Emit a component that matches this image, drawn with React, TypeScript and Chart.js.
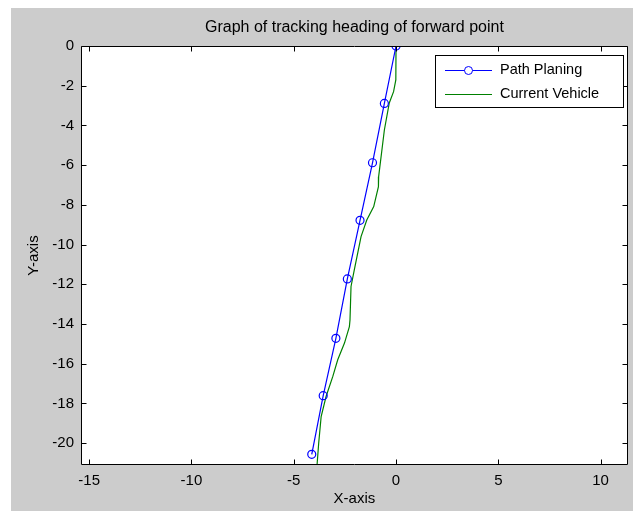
import React, { useEffect, useRef } from "react";
import { Chart, registerables } from "chart.js";

Chart.register(...registerables);

const titleText = "Graph of tracking heading of forward point";
const xAxisTitle = "X-axis";
const yAxisTitle = "Y-axis";
const xTicks = [-15, -10, -5, 0, 5, 10];
const yTicks = [0, -2, -4, -6, -8, -10, -12, -14, -16, -18, -20];
const xMin = -15.4;
const xMax = 11.33;
const yMin = -21.1;
const yMax = 0;

const pathLabel = "Path Planing";
const pathX = [0, -0.57, -1.15, -1.76, -2.38, -2.94, -3.56, -4.12];
const pathY = [0, -2.89, -5.88, -8.78, -11.73, -14.72, -17.61, -20.56];

const vehicleLabel = "Current Vehicle";
const vehicleX = [0, -0.01, -0.12, -0.33, -0.57, -0.85, -0.86, -1.09, -1.43, -1.71, -2.04, -2.2, -2.25, -2.28, -2.52, -2.85, -3.09, -3.42, -3.66, -3.78, -3.86, -3.9];
const vehicleY = [0, -1.71, -2.3, -2.87, -4.23, -6.58, -7.08, -8.09, -8.76, -9.6, -11.27, -12.11, -13.79, -14.13, -14.96, -15.8, -16.64, -17.65, -18.66, -19.99, -21.09, -21.5];

const FONT = "'Liberation Sans', Arial, sans-serif";

const decorPlugin = {
  id: "decor",
  beforeDraw(chart: any) {
    const { ctx, chartArea: a } = chart;
    ctx.save();
    ctx.fillStyle = "#ffffff";
    ctx.fillRect(a.left, a.top, a.right - a.left, a.bottom - a.top);
    ctx.restore();
  },
  afterDraw(chart: any) {
    const { ctx, chartArea: a } = chart;
    const xs = chart.scales.x;
    const ys = chart.scales.y;
    ctx.save();
    ctx.strokeStyle = "#000000";
    ctx.lineWidth = 1;
    const L = Math.round(a.left) + 0.5;
    const R = Math.round(a.right) - 0.5;
    const T = Math.round(a.top) + 0.5;
    const B = Math.round(a.bottom) - 0.5;
    ctx.beginPath();
    ctx.rect(L, T, R - L, B - T);
    ctx.stroke();
    const tl = 5;
    ctx.beginPath();
    xTicks.forEach((v) => {
      const px = Math.round(xs.getPixelForValue(v)) + 0.5;
      ctx.moveTo(px, B);
      ctx.lineTo(px, B - tl);
      ctx.moveTo(px, T);
      ctx.lineTo(px, T + tl);
    });
    yTicks.forEach((v) => {
      const py = Math.round(ys.getPixelForValue(v)) + 0.5;
      ctx.moveTo(L, py);
      ctx.lineTo(L + tl, py);
      ctx.moveTo(R, py);
      ctx.lineTo(R - tl, py);
    });
    ctx.stroke();

    // title
    ctx.fillStyle = "#000000";
    ctx.font = `16px ${FONT}`;
    ctx.textAlign = "center";
    ctx.textBaseline = "middle";
    ctx.fillText(titleText, (a.left + a.right) / 2, 20);

    // legend
    const lx = 424, ly = 47, lw = 188, lh = 52;
    ctx.fillStyle = "#ffffff";
    ctx.fillRect(lx, ly, lw, lh);
    ctx.strokeStyle = "#000000";
    ctx.strokeRect(lx + 0.5, ly + 0.5, lw, lh);
    const ds = chart.data.datasets;
    const rows = [ly + 15, ly + 39];
    ds.forEach((d: any, i: number) => {
      const y = rows[i] + 0.5;
      ctx.strokeStyle = d.borderColor;
      ctx.lineWidth = 1;
      ctx.beginPath();
      ctx.moveTo(434, y);
      ctx.lineTo(481, y);
      ctx.stroke();
      if (d.pointRadius > 0) {
        ctx.fillStyle = "#ffffff";
        ctx.beginPath();
        ctx.arc(457.5, y, 4, 0, Math.PI * 2);
        ctx.fill();
        ctx.stroke();
      }
      ctx.fillStyle = "#000000";
      ctx.font = `14.5px ${FONT}`;
      ctx.textAlign = "left";
      ctx.textBaseline = "middle";
      ctx.fillText(d.label, 489, rows[i]);
    });
    ctx.restore();
  },
};

export default function App() {
  const ref = useRef<HTMLCanvasElement | null>(null);
  useEffect(() => {
    if (!ref.current) return;
    const chart = new Chart(ref.current, {
      type: "scatter",
      data: {
        datasets: [
          {
            label: pathLabel,
            data: pathX.map((x, i) => ({ x, y: pathY[i] })),
            showLine: true,
            borderColor: "#0000ff",
            backgroundColor: "rgba(255,255,255,0)",
            borderWidth: 1.2,
            pointRadius: 4,
            pointBorderWidth: 1.2,
            pointBorderColor: "#0000ff",
            pointBackgroundColor: "rgba(255,255,255,0)",
            order: 1,
          },
          {
            label: vehicleLabel,
            data: vehicleX.map((x, i) => ({ x, y: vehicleY[i] })),
            showLine: true,
            borderColor: "#008000",
            backgroundColor: "#008000",
            borderWidth: 1.2,
            pointRadius: 0,
            order: 2,
          },
        ],
      },
      options: {
        animation: false,
        responsive: false,
        maintainAspectRatio: false,
        layout: { padding: { top: 38, right: 4, bottom: 0, left: 0 } },
        plugins: {
          legend: { display: false },
          title: { display: false },
          tooltip: { enabled: false },
        },
        scales: {
          x: {
            type: "linear",
            min: xMin,
            max: xMax,
            afterBuildTicks: (s: any) => {
              s.ticks = xTicks.map((v) => ({ value: v }));
            },
            afterFit: (s: any) => {
              s.height = 46;
            },
            grid: { display: false, drawTicks: false },
            border: { display: false },
            ticks: {
              color: "#000000",
              font: { family: FONT, size: 15 },
              padding: 7,
              maxRotation: 0,
              autoSkip: false,
              callback: (v: any) => String(v),
            },
            title: {
              display: true,
              text: xAxisTitle,
              color: "#000000",
              font: { family: FONT, size: 15 },
              padding: { top: 0, bottom: 3 },
            },
          },
          y: {
            type: "linear",
            min: yMin,
            max: yMax,
            afterBuildTicks: (s: any) => {
              s.ticks = yTicks.map((v) => ({ value: v }));
            },
            afterFit: (s: any) => {
              s.width = 70;
            },
            grid: { display: false, drawTicks: false },
            border: { display: false },
            ticks: {
              color: "#000000",
              font: { family: FONT, size: 15 },
              padding: 7,
              autoSkip: false,
              callback: (v: any) => String(v),
            },
            title: {
              display: true,
              text: yAxisTitle,
              color: "#000000",
              font: { family: FONT, size: 15 },
              padding: { top: 14, bottom: 0 },
            },
          },
        },
      },
      plugins: [decorPlugin],
    } as any);
    return () => chart.destroy();
  }, []);
  return (
    <div style={{ position: "absolute", left: 11, top: 8, width: 622, height: 503, background: "#cccccc" }}>
      <canvas ref={ref} width={622} height={503} style={{ display: "block", width: 622, height: 503 }} />
    </div>
  );
}
